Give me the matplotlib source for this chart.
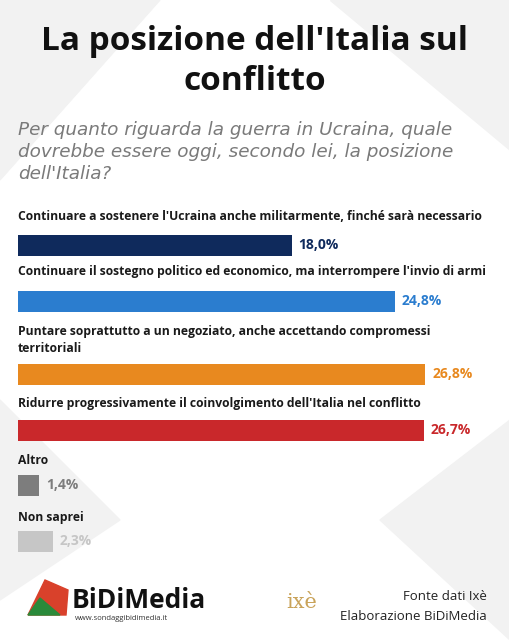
import matplotlib
matplotlib.use("Agg")
import matplotlib.pyplot as plt
from matplotlib.patches import Polygon

plt.rcParams["font.family"] = ["Open Sans", "DejaVu Sans"]

labels = [
    "Continuare a sostenere l'Ucraina anche militarmente, finché sarà necessario",
    "Continuare il sostegno politico ed economico, ma interrompere l'invio di armi",
    "Puntare soprattutto a un negoziato, anche accettando compromessi\nterritoriali",
    "Ridurre progressivamente il coinvolgimento dell'Italia nel conflitto",
    "Altro",
    "Non saprei",
]
values = [18.0, 24.8, 26.8, 26.7, 1.4, 2.3]
value_text = ["18,0%", "24,8%", "26,8%", "26,7%", "1,4%", "2,3%"]
colors = ["#0f2a5c", "#2b7dcf", "#e8891f", "#c9282b", "#7d7d7d", "#c6c6c6"]

# layout in pixels (y from top)
bar_y = [245, 301, 374, 430, 485, 541]
label_y = [217, 272, 340, 404, 461, 517]

W, H = 510, 640
fig = plt.figure(figsize=(W / 100, H / 100), dpi=100)
fig.patch.set_facecolor("white")

# faint background shapes
bg = fig.add_axes([0, 0, 1, 1])
bg.set_xlim(0, W)
bg.set_ylim(H, 0)
bg.axis("off")
for pts in [[(0, 0), (160, 0), (0, 180)], [(330, 0), (510, 0), (510, 150)],
            [(380, 520), (510, 420), (510, 640)], [(0, 400), (120, 520), (0, 600)]]:
    bg.add_patch(Polygon(pts, closed=True, color="#f2f2f2", zorder=0))

ax = fig.add_axes([18 / W, 0, (W - 18) / W, 1])
ax.set_xlim(0, (W - 18) / 15.2)
ax.set_ylim(H, 0)
ax.axis("off")
ax.barh(bar_y, values, height=21, color=colors, zorder=2)
for yb, v, vt, c in zip(bar_y, values, value_text, colors):
    ax.text(v + 0.45, yb, vt, color=c, fontsize=10, fontweight="bold", va="center", ha="left")

for yl, lab in zip(label_y, labels):
    fig.text(18 / W, 1 - yl / H, lab, fontsize=8.7, fontweight="bold", color="#1a1a1a",
             va="center", ha="left", linespacing=1.3)

fig.text(0.5, 1 - 42 / H, "La posizione dell'Italia sul", fontsize=24, fontweight="bold",
         ha="center", va="center", color="#111111")
fig.text(0.5, 1 - 82 / H, "conflitto", fontsize=24, fontweight="bold",
         ha="center", va="center", color="#111111")
fig.text(18 / W, 1 - 152 / H,
         "Per quanto riguarda la guerra in Ucraina, quale\ndovrebbe essere oggi, secondo lei, la posizione\ndell'Italia?",
         fontsize=13.2, style="italic", color="#7a7a7a", ha="left", va="center",
         linespacing=1.3, family="DejaVu Sans")

# footer
fig.text(72 / W, 1 - 600 / H, "BiDiMedia", fontsize=19, fontweight="bold", color="#111111",
         ha="left", va="center")
fig.text(75 / W, 1 - 619 / H, "www.sondaggibidimedia.it", fontsize=5.5, color="#333333",
         ha="left", va="center")
bg.add_patch(Polygon([(28, 615), (45, 580), (68, 590), (66, 615)], closed=True,
                     color="#d9412b", zorder=1))
bg.add_patch(Polygon([(28, 615), (40, 598), (60, 615)], closed=True, color="#2a8a3a", zorder=1))
fig.text(302 / W, 1 - 602 / H, "ixè", fontsize=15, family="DejaVu Serif", color="#c9a35a",
         ha="center", va="center")
fig.text(487 / W, 1 - 596 / H, "Fonte dati Ixè", fontsize=9.5, color="#222222",
         ha="right", va="center")
fig.text(487 / W, 1 - 616 / H, "Elaborazione BiDiMedia", fontsize=9.5, color="#222222",
         ha="right", va="center")

fig.savefig("out.png", dpi=100)
